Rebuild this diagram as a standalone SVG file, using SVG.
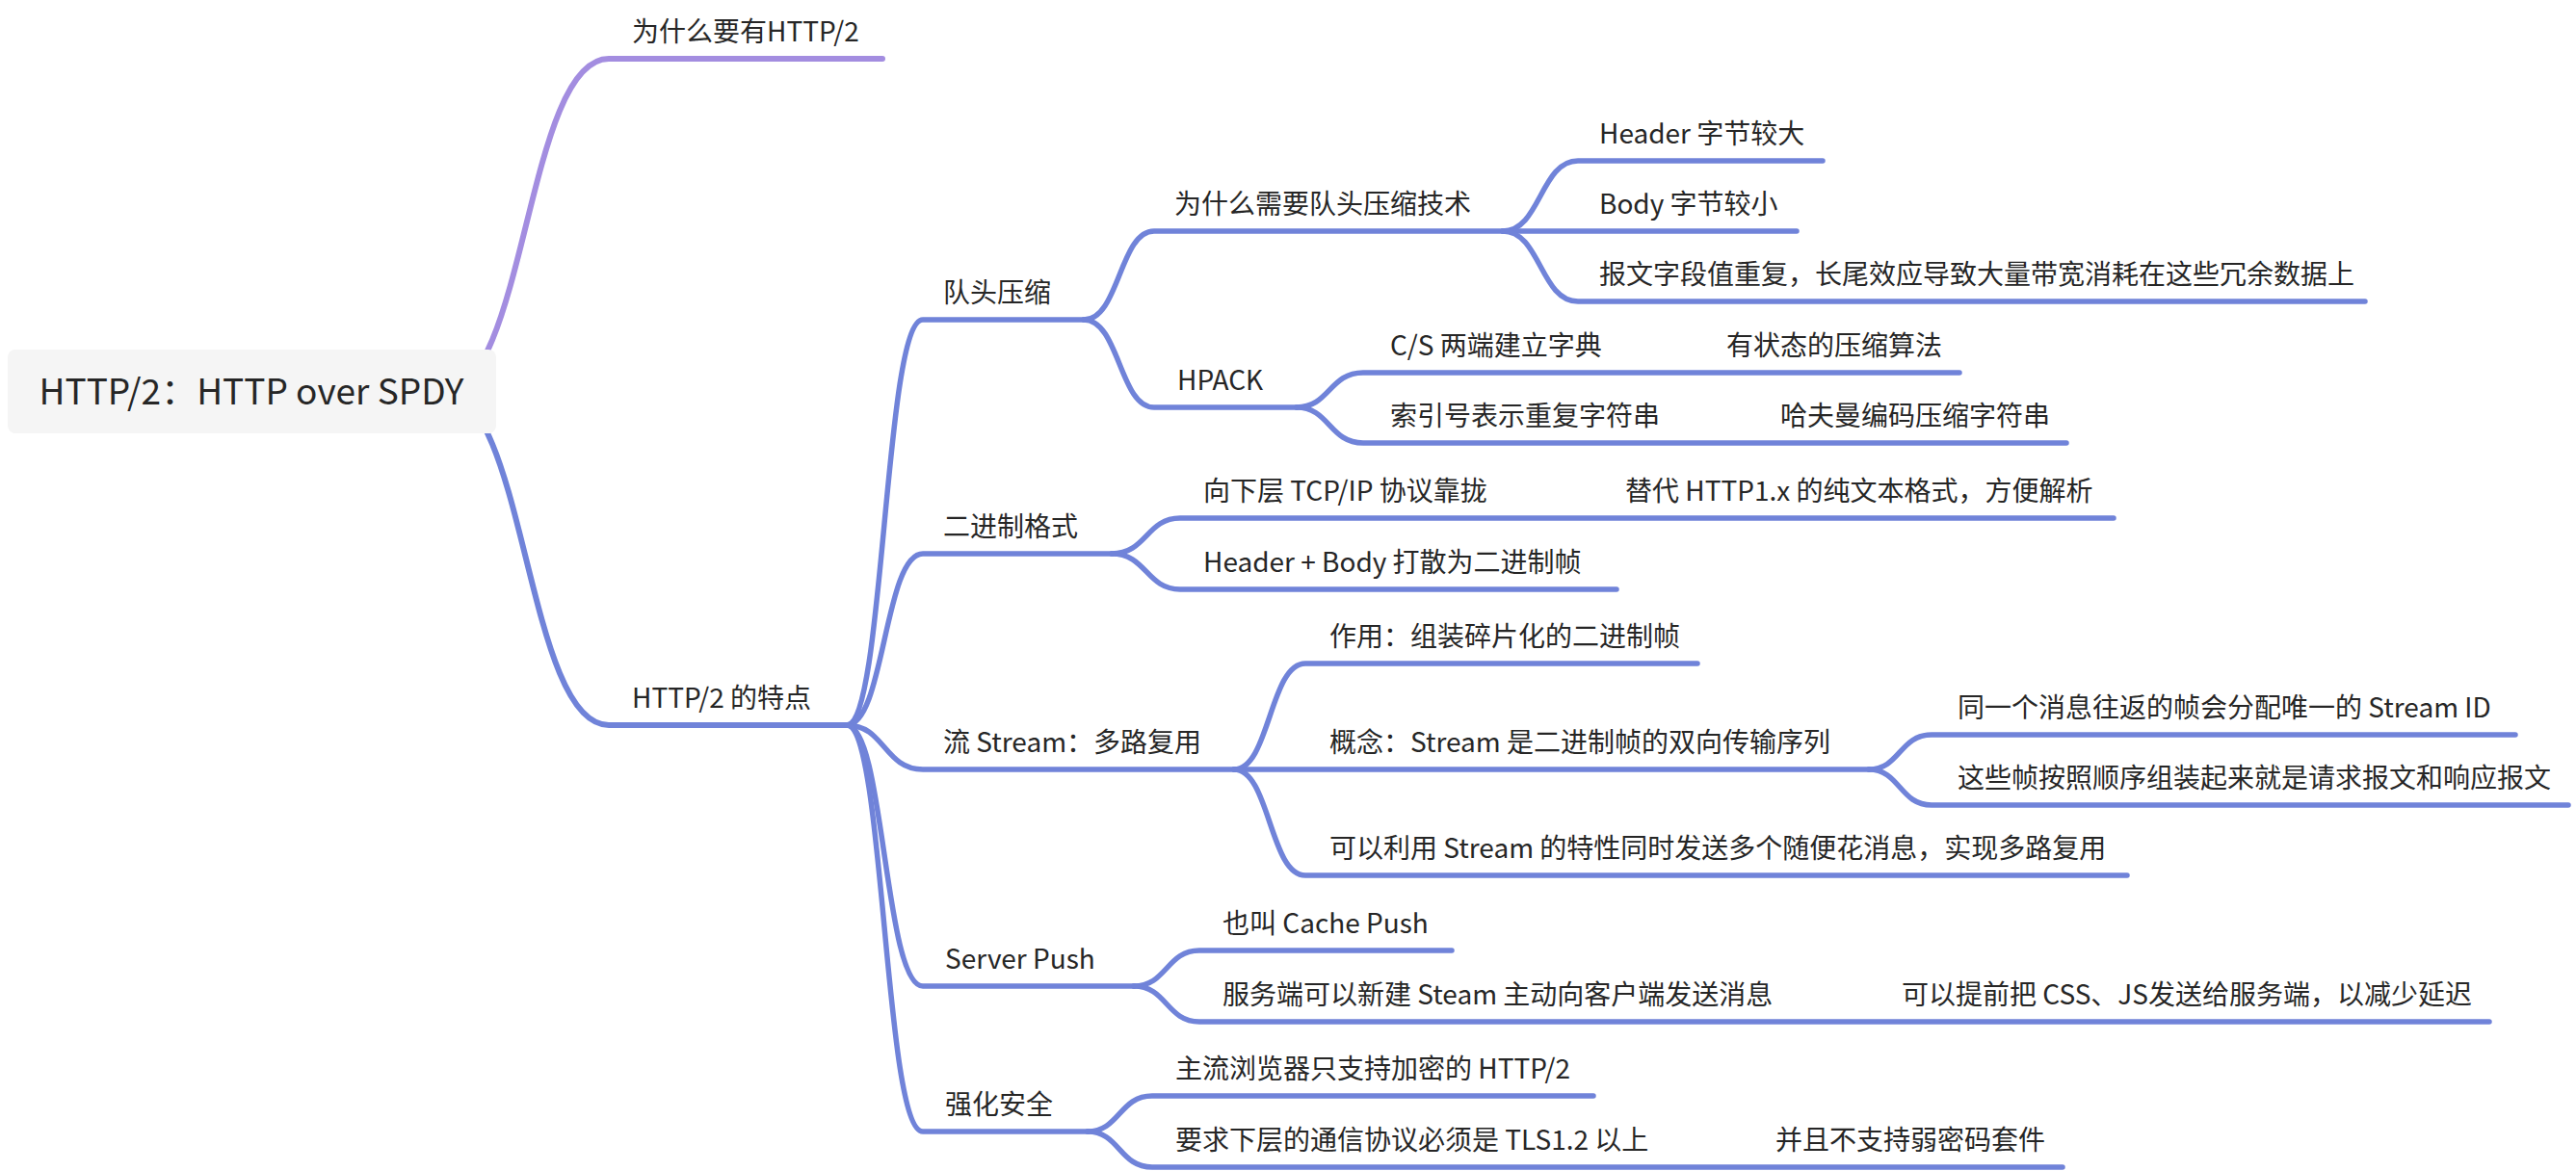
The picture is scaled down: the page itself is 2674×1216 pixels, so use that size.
<svg xmlns="http://www.w3.org/2000/svg" width="2674" height="1216" viewBox="0 0 2674 1216">
<style>
.t{font-family:"Noto Sans CJK SC","Noto Sans",sans-serif;font-size:28px;fill:#262626}
.r{font-family:"Noto Sans CJK SC","Noto Sans",sans-serif;font-size:37px;fill:#262626}
.c{fill:none;stroke:#7083d9;stroke-width:5.5;stroke-linecap:round;stroke-linejoin:round}
.p{fill:none;stroke:#a38de0;stroke-width:6;stroke-linecap:round}
.b{stroke-width:6}
</style>
<rect width="2674" height="1216" fill="#ffffff"/>
<g id="connectors">
<path class="p" d="M460,407 C546,407 546,61 632,61 H916"/>
<path class="c b" d="M460,407 C546,407 546,753 632,753 H879"/>
<path class="c" d="M879,753 C918,753 918,332 958,332 H1125"/>
<path class="c" d="M879,753 C918,753 918,575 958,575 H1154"/>
<path class="c" d="M879,753 C918,753 918,799 958,799 H1281"/>
<path class="c" d="M879,753 C918,753 918,1024 958,1024 H1177"/>
<path class="c" d="M879,753 C918,753 918,1175 958,1175 H1129"/>
<path class="c" d="M1125,332 C1162,332 1162,240 1198,240 H1560"/>
<path class="c" d="M1125,332 C1162,332 1162,423 1198,423 H1346"/>
<path class="c" d="M1560,240 C1599,240 1599,167 1638,167 H1892"/>
<path class="c" d="M1560,240 H1865"/>
<path class="c" d="M1560,240 C1599,240 1599,313 1638,313 H2455"/>
<path class="c" d="M1346,423 C1380,423 1380,387 1415,387 H2034"/>
<path class="c" d="M1346,423 C1380,423 1380,460 1415,460 H2145"/>
<path class="c" d="M1154,575 C1190,575 1190,538 1225,538 H2194"/>
<path class="c" d="M1154,575 C1190,575 1190,612 1225,612 H1678"/>
<path class="c" d="M1281,799 C1318,799 1318,689 1355,689 H1762"/>
<path class="c" d="M1281,799 H1940"/>
<path class="c" d="M1281,799 C1318,799 1318,909 1355,909 H2208"/>
<path class="c" d="M1940,799 C1972,799 1972,763 2005,763 H2611"/>
<path class="c" d="M1940,799 C1972,799 1972,836 2005,836 H2666"/>
<path class="c" d="M1177,1024 C1211,1024 1211,987 1245,987 H1507"/>
<path class="c" d="M1177,1024 C1211,1024 1211,1061 1245,1061 H2584"/>
<path class="c" d="M1129,1175 C1162,1175 1162,1138 1196,1138 H1654"/>
<path class="c" d="M1129,1175 C1162,1175 1162,1212 1196,1212 H2141"/>
</g>
<g id="root">
<rect x="8" y="363" width="507" height="87" rx="8" fill="#f5f5f5"/>
<text class="r" x="261" y="420" text-anchor="middle">HTTP/2：HTTP over SPDY</text>
</g>
<g id="n1"><text class="t" x="656" y="43">为什么要有HTTP/2</text></g>
<g id="n2"><text class="t" x="656" y="735">HTTP/2 的特点</text></g>
<g id="n3"><text class="t" x="979" y="314">队头压缩</text></g>
<g id="n4"><text class="t" x="1219" y="222">为什么需要队头压缩技术</text></g>
<g id="n5"><text class="t" x="1660" y="149">Header 字节较大</text></g>
<g id="n6"><text class="t" x="1660" y="222">Body 字节较小</text></g>
<g id="n7"><text class="t" x="1660" y="295">报文字段值重复，长尾效应导致大量带宽消耗在这些冗余数据上</text></g>
<g id="n8"><text class="t" x="1222" y="405">HPACK</text></g>
<g id="n9"><text class="t" x="1443" y="369">C/S 两端建立字典</text></g>
<g id="n10"><text class="t" x="1792" y="369">有状态的压缩算法</text></g>
<g id="n11"><text class="t" x="1443" y="442">索引号表示重复字符串</text></g>
<g id="n12"><text class="t" x="1848" y="442">哈夫曼编码压缩字符串</text></g>
<g id="n13"><text class="t" x="979" y="557">二进制格式</text></g>
<g id="n14"><text class="t" x="1249" y="520">向下层 TCP/IP 协议靠拢</text></g>
<g id="n15"><text class="t" x="1687" y="520">替代 HTTP1.x 的纯文本格式，方便解析</text></g>
<g id="n16"><text class="t" x="1249" y="594">Header + Body 打散为二进制帧</text></g>
<g id="n17"><text class="t" x="979" y="781">流 Stream：多路复用</text></g>
<g id="n18"><text class="t" x="1380" y="671">作用：组装碎片化的二进制帧</text></g>
<g id="n19"><text class="t" x="1380" y="781">概念：Stream 是二进制帧的双向传输序列</text></g>
<g id="n20"><text class="t" x="2032" y="745">同一个消息往返的帧会分配唯一的 Stream ID</text></g>
<g id="n21"><text class="t" x="2032" y="818">这些帧按照顺序组装起来就是请求报文和响应报文</text></g>
<g id="n22"><text class="t" x="1380" y="891">可以利用 Stream 的特性同时发送多个随便花消息，实现多路复用</text></g>
<g id="n23"><text class="t" x="981" y="1006">Server Push</text></g>
<g id="n24"><text class="t" x="1269" y="969">也叫 Cache Push</text></g>
<g id="n25"><text class="t" x="1269" y="1043">服务端可以新建 Steam 主动向客户端发送消息</text></g>
<g id="n26"><text class="t" x="1974" y="1043">可以提前把 CSS、JS发送给服务端，以减少延迟</text></g>
<g id="n27"><text class="t" x="981" y="1157">强化安全</text></g>
<g id="n28"><text class="t" x="1220" y="1120">主流浏览器只支持加密的 HTTP/2</text></g>
<g id="n29"><text class="t" x="1220" y="1194">要求下层的通信协议必须是 TLS1.2 以上</text></g>
<g id="n30"><text class="t" x="1843" y="1194">并且不支持弱密码套件</text></g>
</svg>
